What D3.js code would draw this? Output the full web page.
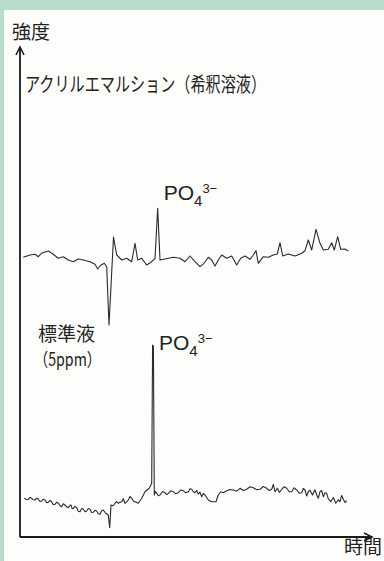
<!DOCTYPE html>
<html>
<head>
<meta charset="utf-8">
<script src="https://cdn.jsdelivr.net/npm/d3@7"></script>
<style>
  html, body { margin: 0; padding: 0; background: #b7dcc9; }
  svg { display: block; }
</style>
</head>
<body>
<svg id="svg"></svg>
<script>
// time (arbitrary units) / intensity (arbitrary units)
const emulsionTime = [3.3, 10, 15, 18.3, 21.7, 28.3, 33.3, 38.3, 43.3, 48.3, 53.3, 58.3, 63.3, 70, 75, 77.7, 81, 84.3, 86.7,
  89, 93.5, 96.7, 101.7, 106.7, 111.7, 115, 117.7, 121.7, 126.7, 131.7, 135, 137.7, 140, 145, 153.3, 160, 165, 170,
  175, 180, 184, 188.3, 191.7, 195, 198.3, 201.7, 206.7, 211.7, 216.7, 220.7, 225, 230, 233.3, 236, 238.3, 243.3,
  248.3, 253.3, 257.3, 260, 262.7, 268.3, 275, 281.7, 285, 288.3, 291.7, 296, 300, 303.3, 308.3, 311.7, 314.3,
  317.7, 320.7, 325, 328.3];
const emulsionValue = [279.7, 282, 282.7, 280.3, 284, 286, 282.7, 278.7, 280.3, 277, 275.3, 278, 277, 275.3, 272.7, 268, 272, 273.7, 270.3,
  212, 300, 282, 277, 278.7, 275.3, 293.7, 277, 278.7, 272, 275.3, 278.7, 328.7, 277, 278, 279.7, 278.7, 275.3, 281,
  275.3, 270.3, 273.7, 279.7, 277, 271, 277, 282, 278.7, 281, 272, 278.7, 281, 277.7, 282, 286.3, 273.7, 280.3,
  279.7, 282, 283, 294.3, 281, 283, 281, 283.7, 286.3, 297, 287, 307.7, 293.7, 287, 287.7, 294.3, 287,
  300.3, 287.7, 288, 286];

const standardTime = [4.3, 6.3, 8.3, 10, 11.7, 13.3, 15, 16.7, 18.3, 20, 21.7, 23.3, 25, 26.7, 28.3, 30, 31.7, 33.3, 35, 36.7,
  38.3, 40, 41.7, 43.3, 45, 46.7, 48.3, 50, 51, 52.2, 53.3, 55, 56.7, 58.3, 60, 61.7, 63.3, 65, 66.7, 68.3, 70, 71.7,
  73.3, 75, 76.7, 78.3, 80, 81.7, 83.3, 85.7, 88.3, 89.7, 91, 92.7, 94.3, 96.3, 98.3, 100, 101.7, 103.3, 105, 106.7,
  108.3, 110, 111.7, 113.3, 115, 118.3, 121.7, 125, 129.3, 131.7, 132.6, 133.4, 134.3, 135.5, 136.7, 138.3, 140,
  142.5, 145, 146.7, 148.3, 150.7, 153.3, 155.7, 158.3, 160.7, 163.3, 165.7, 168.3, 170, 171.7, 173.3, 175, 176.7,
  178.3, 180, 181.7, 183.3, 185, 186.7, 188.3, 191.7, 196, 198.3, 200.7, 203.3, 206.7, 210, 213.3, 216.7, 220,
  223.3, 226.7, 230, 233.3, 236.7, 240, 243.3, 246.7, 249.2, 251.7, 253.3, 255, 257.3, 259.5, 261.7, 264.2, 266.7,
  269.2, 271.7, 274.2, 276.7, 279.2, 281.7, 283.3, 285, 286.7, 288.3, 290, 292.5, 295, 296.7, 298.3, 300, 301.7,
  303.3, 305, 306.7, 308.3, 310.8, 313.3, 315.8, 318.3, 320, 321.7, 323.3, 325, 326.7, 328.3];
const standardValue = [38.7, 37.5, 37.7, 39.5, 38.7, 37.2, 37, 38.8, 38, 35.5, 36, 37.8, 37, 34.2, 34.7, 36.5, 35.3, 32.2, 32.7, 34.8,
  33.7, 31.5, 30.3, 33.2, 32, 30.2, 29.3, 31.8, 32, 28.3, 28.7, 30.7, 29.3, 25.8, 25.3, 28.5, 27.7, 25.2, 26, 28.5, 27.7, 24.5,
  24.7, 26.8, 26, 23.2, 22.7, 26.3, 27, 23.7, 22, 9.3, 32, 31.2, 32.7, 35.5, 33.7, 34.8, 35.3, 38.3, 33.7, 35.2,
  37, 40.5, 38.7, 36, 35.3, 33.7, 38.7, 45.3, 48.7, 53.7, 192, 191, 42, 45.5, 43.7, 41.2, 42,
  45.5, 44.3, 42.3, 43.7, 46.2, 45.3, 43.2, 44.3, 47, 46.3, 44.2, 45.3, 48.2, 47.7, 45.2, 44.3, 46.5,
  43, 44.8, 40.3, 43.5, 42, 39.5, 37, 35.3, 35.3, 42, 45.3, 44.2, 46.3, 47.5, 47, 45.8, 48.7,
  46.5, 47.7, 50.2, 49.3, 47.3, 47.7, 50.5, 48.7, 46.5, 47.7, 52.7, 45.3, 48.8, 44.5, 47.7, 50.3, 48.7,
  45.2, 45.3, 49.2, 47, 43.8, 44.3, 48.5, 47, 41, 45.3, 46.8, 42, 47.2, 42, 38.7, 45.3,
  46.5, 40.3, 44.2, 43.7, 38.2, 35.3, 39.5, 33.7, 37.2, 35.3, 41.5, 37.7, 34.5, 36.3];

const sampleLabel = 'アクリルエマルション（希釈溶液）';
const standardLabel = ['標準液', '（5ppm）'];
const yAxisLabel = '強度';
const xAxisLabel = '時間';
const peakTime = [137.7, 133];   // PO4 peaks (emulsion, standard)

const W = 384, H = 561;
const svg = d3.select('#svg').attr('width', W).attr('height', H);

// white panel on green
svg.append('rect')
  .attr('x', 4).attr('y', 10)
  .attr('width', W - 4).attr('height', H - 10)
  .attr('fill', '#fdfdfb');

const x = d3.scaleLinear().domain([0, 352]).range([20, 372]);
const y = d3.scaleLinear().domain([0, 490]).range([537, 47]);

// axes with arrow heads
const axisG = svg.append('g').attr('stroke', '#1a1a1a').attr('fill', 'none');
axisG.append('line')
  .attr('x1', x(0)).attr('y1', y(0)).attr('x2', x(0)).attr('y2', y(490))
  .attr('stroke-width', 1.8);
axisG.append('line')
  .attr('x1', x(0)).attr('y1', y(0)).attr('x2', x(352)).attr('y2', y(0))
  .attr('stroke-width', 1.8);
axisG.append('path')
  .attr('d', `M${x(0) - 4},${y(490) + 8}L${x(0)},${y(490)}L${x(0) + 4},${y(490) + 8}`)
  .attr('stroke-width', 1.6);
axisG.append('path')
  .attr('d', `M${x(352) - 8},${y(0) - 4}L${x(352)},${y(0)}L${x(352) - 8},${y(0) + 4}`)
  .attr('stroke-width', 1.6);

// traces
const line = d3.line()
  .x(d => x(d[0]))
  .y(d => y(d[1]));

const traces = [
  d3.zip(emulsionTime, emulsionValue),
  d3.zip(standardTime, standardValue)
];

svg.selectAll('path.trace')
  .data(traces)
  .enter()
  .append('path')
  .attr('class', 'trace')
  .attr('d', line)
  .attr('fill', 'none')
  .attr('stroke', '#2b2b2b')
  .attr('stroke-width', 1.1)
  .attr('stroke-linejoin', 'round');

// labels
const jp = '"Noto Sans CJK JP", sans-serif';
svg.append('text')
  .attr('x', 12).attr('y', 39)
  .style('font-family', jp).style('font-size', '19px').attr('fill', '#222')
  .text(yAxisLabel);

svg.append('text')
  .attr('x', 382).attr('y', 554)
  .attr('text-anchor', 'end')
  .style('font-family', jp).style('font-size', '19px').attr('fill', '#222')
  .text(xAxisLabel);

svg.append('text')
  .attr('x', 25).attr('y', 92)
  .attr('textLength', 241).attr('lengthAdjust', 'spacingAndGlyphs')
  .style('font-family', jp).style('font-size', '20px').attr('fill', '#222')
  .text(sampleLabel);

svg.append('text')
  .attr('x', 38).attr('y', 341)
  .style('font-family', jp).style('font-size', '19px').attr('fill', '#222')
  .text(standardLabel[0]);
svg.append('text')
  .attr('x', 34).attr('y', 366)
  .attr('textLength', 67).attr('lengthAdjust', 'spacingAndGlyphs')
  .style('font-family', jp).style('font-size', '18px').attr('fill', '#222')
  .text(standardLabel[1]);

// PO4 3- labels
const poBase = [200, 350];
peakTime.forEach((t, i) => {
  const tx = svg.append('text')
    .attr('x', x(t) + 6).attr('y', poBase[i])
    .style('font-family', '"Liberation Sans", Arial, sans-serif')
    .style('font-size', '21px').attr('fill', '#222');
  tx.append('tspan').text('PO');
  tx.append('tspan').attr('dy', 6).style('font-size', '15px').text('4');
  tx.append('tspan').attr('dy', -13).style('font-size', '13px').text('3−');
});
</script>
</body>
</html>
